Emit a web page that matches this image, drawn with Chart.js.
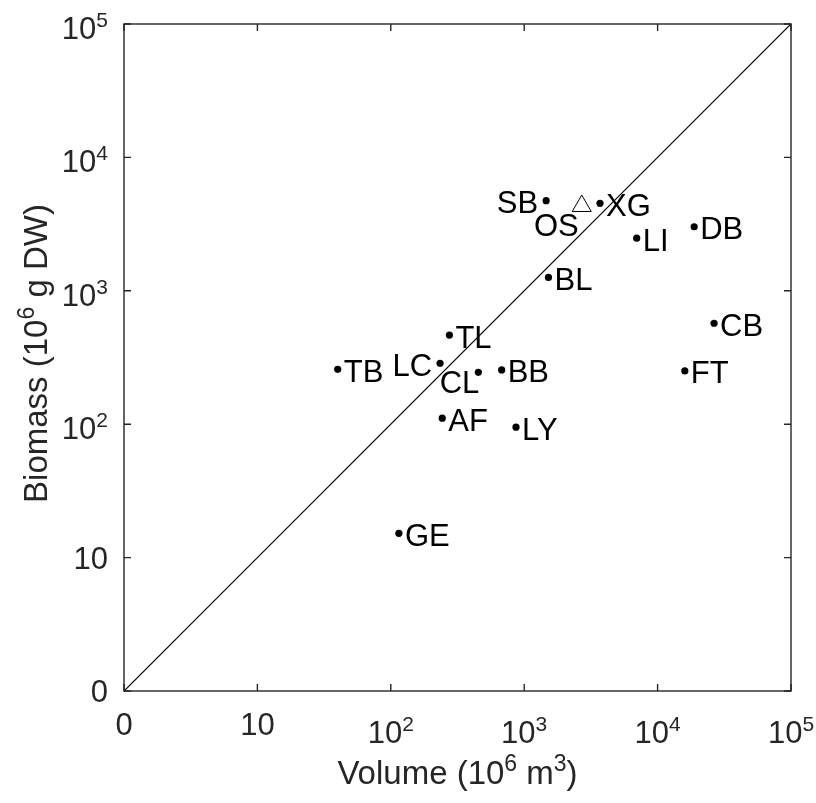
<!DOCTYPE html>
<html>
<head>
<meta charset="utf-8">
<script src="https://cdn.jsdelivr.net/npm/chart.js@4.4.1/dist/chart.umd.min.js"></script>
<style>
    html, body { margin: 0; padding: 0; background: #fff; }
    #wrap { width: 816px; height: 803px; }
</style>
</head>
<body>
<div id="wrap"><canvas id="chart" width="816" height="803"></canvas></div>
<script>
// sites shown as dots
const siteNames = ['SB', 'XG', 'LI', 'BL', 'DB', 'CB', 'FT', 'TL', 'TB', 'LC', 'CL', 'BB', 'AF', 'LY', 'GE'];
const siteVolume = [1460, 3700, 6970, 1520, 18800, 26500, 16000, 275, 40, 234, 453, 678, 243, 868, 115];
const siteBiomass = [4740, 4530, 2480, 1260, 3020, 571, 251, 466, 258, 286, 245, 255, 111, 95, 15.2];

// site shown as open triangle
const triNames = ['OS'];
const triVolume = [2700];
const triBiomass = [4320];

// axis ticks (1 is labelled "0")
const tickValues = [1, 10, 100, 1000, 10000, 100000];
const tickBase = ['0', '10', '10', '10', '10', '10'];
const tickExp = ['', '', '2', '3', '4', '5'];

// where the label sits relative to its marker (default: right)
const labelSide = { SB: 'left', LC: 'left', CL: 'below', OS: 'below' };

const FONT = '"Liberation Sans", Arial, Helvetica, sans-serif';
const INK = '#262626';

// draws text made of [text, isSuperscript] pieces
function richWidth(ctx, parts, size, supSize) {
    let w = 0;
    parts.forEach(p => {
        ctx.font = (p[1] ? supSize : size) + 'px ' + FONT;
        w += ctx.measureText(p[0]).width;
    });
    return w;
}

function drawRich(ctx, parts, x, y, size, supSize, raise, align) {
    const w = richWidth(ctx, parts, size, supSize);
    let cx = x;
    if (align === 'center') cx = x - w / 2;
    if (align === 'right') cx = x - w;
    ctx.textAlign = 'left';
    ctx.textBaseline = 'alphabetic';
    parts.forEach(p => {
        ctx.font = (p[1] ? supSize : size) + 'px ' + FONT;
        ctx.fillText(p[0], cx, p[1] ? y - raise : y);
        cx += ctx.measureText(p[0]).width;
    });
}

function tickParts(i) {
    const parts = [[tickBase[i], false]];
    if (tickExp[i]) parts.push([tickExp[i], true]);
    return parts;
}

const axesPlugin = {
    id: 'matlabAxes',
    afterDraw(chart) {
        const ctx = chart.ctx;
        const a = chart.chartArea;
        const xs = chart.scales.x;
        const ys = chart.scales.y;
        ctx.save();

        // box
        ctx.strokeStyle = INK;
        ctx.lineWidth = 1.4;
        ctx.strokeRect(a.left, a.top, a.right - a.left, a.bottom - a.top);

        // inward ticks on all four sides
        const tl = 7;
        ctx.beginPath();
        tickValues.forEach(v => {
            const px = xs.getPixelForValue(v);
            const py = ys.getPixelForValue(v);
            ctx.moveTo(px, a.bottom); ctx.lineTo(px, a.bottom - tl);
            ctx.moveTo(px, a.top); ctx.lineTo(px, a.top + tl);
            ctx.moveTo(a.left, py); ctx.lineTo(a.left + tl, py);
            ctx.moveTo(a.right, py); ctx.lineTo(a.right - tl, py);
        });
        ctx.stroke();

        // tick labels
        ctx.fillStyle = INK;
        tickValues.forEach((v, i) => {
            const px = xs.getPixelForValue(v);
            const py = ys.getPixelForValue(v);
            const hasExp = tickExp[i] !== '';
            drawRich(ctx, tickParts(i), px, a.bottom + (hasExp ? 52 : 44), 31, 21, 12, 'center');
            drawRich(ctx, tickParts(i), a.left - 16, py + (hasExp ? 15 : 11), 31, 21, 12, 'right');
        });

        // axis titles
        const xTitle = [['Volume (10', false], ['6', true], [' m', false], ['3', true], [')', false]];
        drawRich(ctx, xTitle, (a.left + a.right) / 2, a.bottom + 93, 33, 23, 13, 'center');

        const yTitle = [['Biomass (10', false], ['6', true], [' g DW)', false]];
        ctx.save();
        ctx.translate(47, (a.top + a.bottom) / 2 - 4);
        ctx.rotate(-Math.PI / 2);
        drawRich(ctx, yTitle, 0, 0, 33, 23, 13, 'center');
        ctx.restore();

        // point labels
        ctx.fillStyle = '#000';
        ctx.font = '31px ' + FONT;
        ctx.textBaseline = 'alphabetic';
        const put = (name, vx, vy, triangle) => {
            const px = xs.getPixelForValue(vx);
            const py = ys.getPixelForValue(vy);
            const side = labelSide[name] || 'right';
            if (side === 'left') {
                ctx.textAlign = 'right';
                ctx.fillText(name, px - 8, py + 12.5);
            } else if (side === 'below') {
                ctx.textAlign = 'right';
                if (triangle) ctx.fillText(name, px - 3, py + 30);
                else ctx.fillText(name, px + 1, py + 21);
            } else {
                ctx.textAlign = 'left';
                ctx.fillText(name, px + 6, py + 12.5);
            }
        };
        siteNames.forEach((n, i) => put(n, siteVolume[i], siteBiomass[i], false));
        triNames.forEach((n, i) => put(n, triVolume[i], triBiomass[i], true));

        ctx.restore();
    }
};

const ctx = document.getElementById('chart').getContext('2d');
new Chart(ctx, {
    type: 'scatter',
    data: {
        datasets: [
            {
                type: 'line',
                data: [{ x: 1, y: 1 }, { x: 100000, y: 100000 }],
                borderColor: '#000',
                borderWidth: 1.2,
                pointRadius: 0,
                fill: false
            },
            {
                data: siteNames.map((n, i) => ({ x: siteVolume[i], y: siteBiomass[i] })),
                pointRadius: 3.6,
                backgroundColor: '#000',
                borderWidth: 0
            },
            {
                data: triNames.map((n, i) => ({ x: triVolume[i], y: triBiomass[i] })),
                pointStyle: 'triangle',
                pointRadius: 11,
                backgroundColor: '#fff',
                borderColor: '#000',
                borderWidth: 1
            }
        ]
    },
    options: {
        responsive: false,
        animation: false,
        layout: { padding: { left: 124, right: 25, top: 24, bottom: 112 } },
        plugins: {
            legend: { display: false },
            tooltip: { enabled: false }
        },
        scales: {
            x: { type: 'logarithmic', min: 1, max: 100000, display: false },
            y: { type: 'logarithmic', min: 1, max: 100000, display: false }
        }
    },
    plugins: [axesPlugin]
});
</script>
</body>
</html>
